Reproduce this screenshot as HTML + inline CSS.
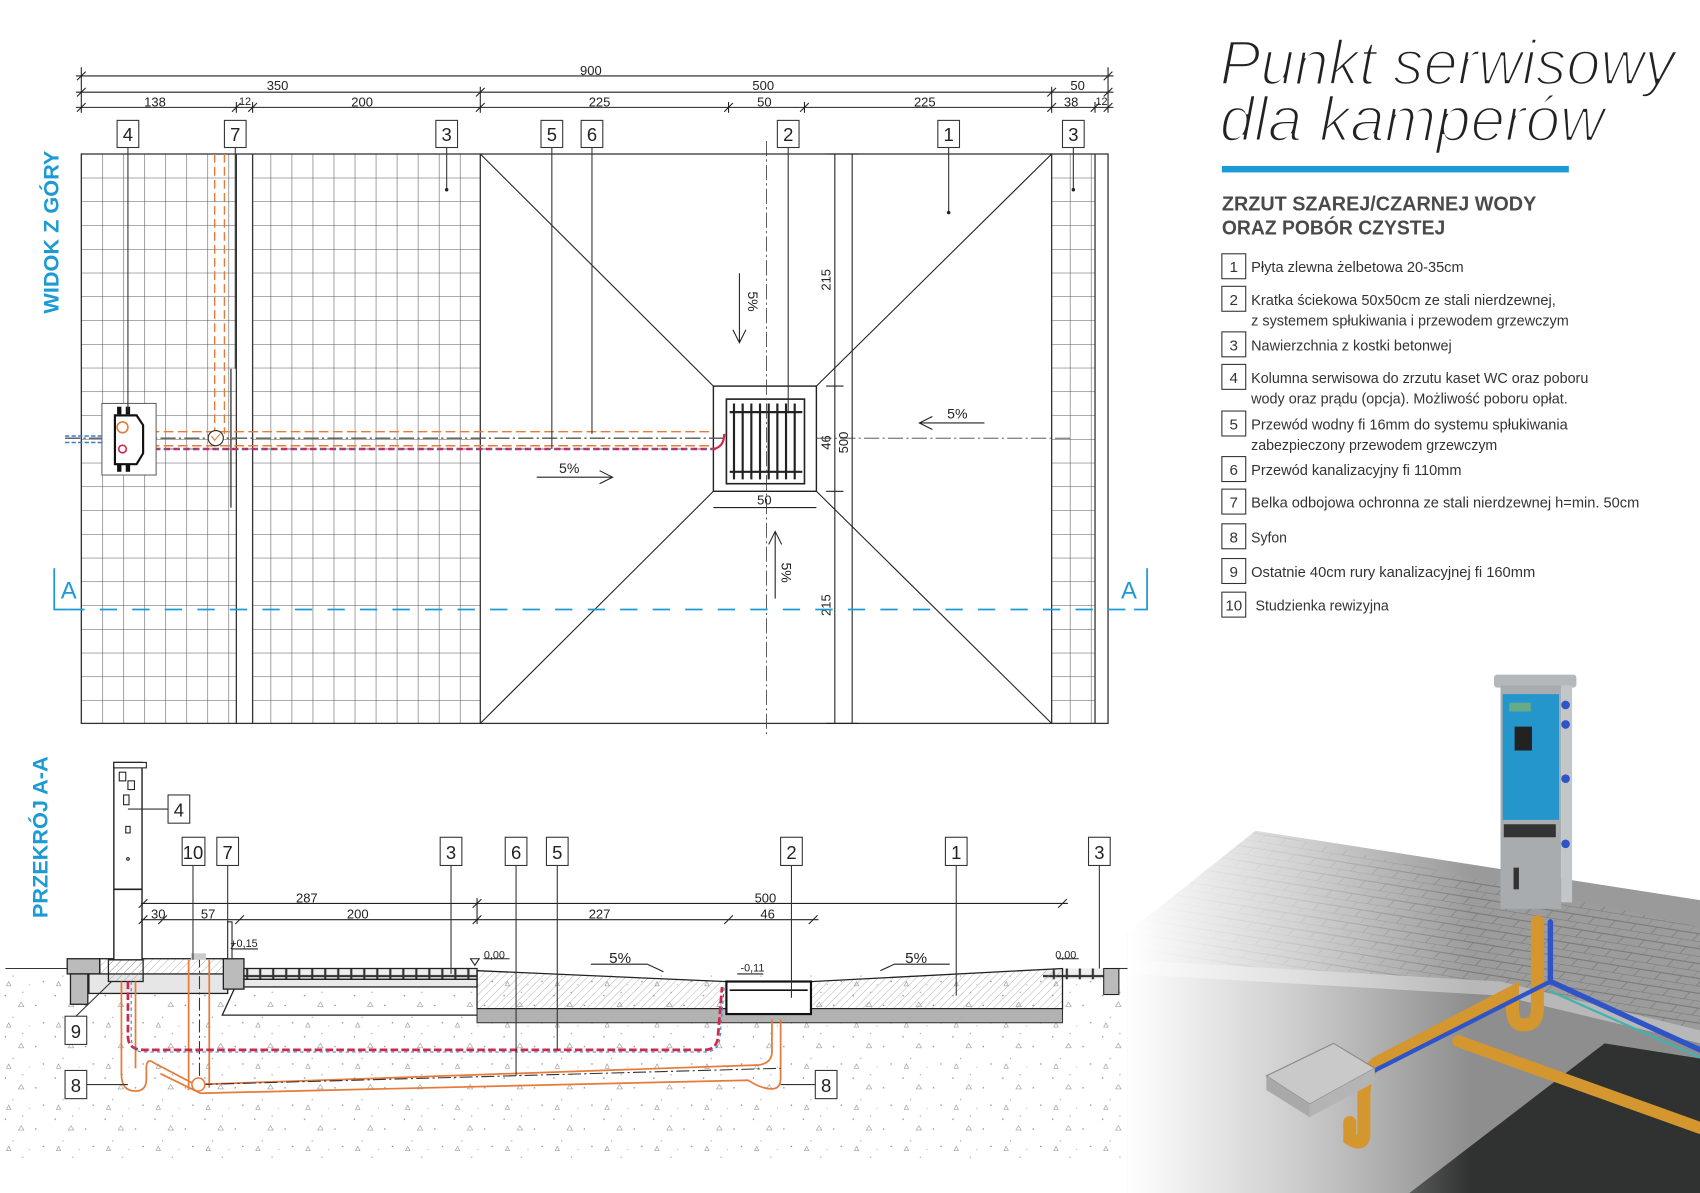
<!DOCTYPE html>
<html><head><meta charset="utf-8">
<style>
html,body{margin:0;padding:0;background:#fff;}
svg{display:block;}
.t{font-family:"Liberation Sans Narrow","Liberation Sans",sans-serif;}
</style></head>
<body>
<svg width="1700" height="1193" viewBox="0 0 1568 1100" preserveAspectRatio="none" xmlns="http://www.w3.org/2000/svg">
<defs>
<pattern id="g1" x="75" y="142" width="19.4" height="21.9" patternUnits="userSpaceOnUse">
<path d="M0 0V21.9M0 0H19.4" stroke="#555" stroke-width="1" fill="none"/>
</pattern>
<pattern id="soil" x="0" y="0" width="46" height="38" patternUnits="userSpaceOnUse">
<circle cx="5" cy="6" r="0.7" fill="#888"/><circle cx="21" cy="3" r="0.6" fill="#999"/>
<circle cx="33" cy="15" r="0.7" fill="#888"/><circle cx="12" cy="26" r="0.6" fill="#999"/>
<circle cx="40" cy="31" r="0.7" fill="#888"/><circle cx="27" cy="34" r="0.5" fill="#999"/>
<path d="M17 16l2.5 -4l2.5 4z M6 35l2 -4l2 4z" fill="none" stroke="#888" stroke-width="0.5"/>
</pattern>
<pattern id="hatch" width="5" height="5" patternUnits="userSpaceOnUse" patternTransform="rotate(45)">
<path d="M0 0V5" stroke="#888" stroke-width="0.6"/>
</pattern>
<pattern id="pave" width="12" height="10" patternUnits="userSpaceOnUse">
<rect width="12" height="10" fill="#eee"/><rect x="0.5" y="0.5" width="11" height="9" fill="none" stroke="#333" stroke-width="1"/>
</pattern>
<pattern id="brick" width="22" height="12" patternUnits="userSpaceOnUse" patternTransform="skewX(-40) rotate(8)">
<rect width="22" height="12" fill="#9c9c9c"/><path d="M0 0H22M0 6H22M0 0V6M11 6V12" stroke="#7c7c7c" stroke-width="1"/>
</pattern>
<linearGradient id="fade" x1="0" y1="0" x2="1" y2="0">
<stop offset="0" stop-color="#fff" stop-opacity="1"/><stop offset="0.3" stop-color="#fff" stop-opacity="0.55"/><stop offset="0.6" stop-color="#fff" stop-opacity="0"/>
</linearGradient>
</defs>

<!-- ================= PLAN VIEW ================= -->
<text x="0" y="0" transform="translate(54,214) rotate(-90)" text-anchor="middle" font-family="Liberation Sans" font-weight="bold" font-size="20" fill="#1c9ad6">WIDOK Z GÓRY</text>

<rect x="75" y="142" width="368" height="525" fill="url(#g1)"/>
<rect x="970" y="142" width="52" height="525" fill="url(#g1)"/>
<rect x="218" y="142" width="15" height="525" fill="#fff"/>
<rect x="1010" y="142" width="12" height="525" fill="#fff"/>
<g fill="none" stroke="#333" stroke-width="1.2">
<rect x="75" y="142" width="947" height="525"/>
<line x1="218" y1="142" x2="218" y2="667"/><line x1="233" y1="142" x2="233" y2="667"/>
<line x1="213" y1="340" x2="213" y2="468"/>
<line x1="443" y1="142" x2="443" y2="667"/><line x1="970" y1="142" x2="970" y2="667"/>
<line x1="1010" y1="142" x2="1010" y2="667"/>
</g>
<g stroke="#222" stroke-width="1" fill="none">
<line x1="443" y1="142" x2="658" y2="356"/><line x1="970" y1="142" x2="753" y2="356"/>
<line x1="443" y1="667" x2="658" y2="453"/><line x1="970" y1="667" x2="753" y2="453"/>
<rect x="658" y="356" width="95" height="97" stroke-width="1.3"/>
<rect x="670" y="368" width="72" height="78" fill="#fff" stroke-width="1.5"/>
</g>
<g stroke="#222" stroke-width="2">
<line x1="677" y1="372" x2="677" y2="442"/><line x1="685" y1="372" x2="685" y2="442"/><line x1="693" y1="372" x2="693" y2="442"/><line x1="701" y1="372" x2="701" y2="442"/><line x1="709" y1="372" x2="709" y2="442"/><line x1="717" y1="372" x2="717" y2="442"/><line x1="725" y1="372" x2="725" y2="442"/><line x1="733" y1="372" x2="733" y2="442"/>
<line x1="673" y1="380" x2="740" y2="380"/><line x1="673" y1="435" x2="740" y2="435"/>
</g>
<g stroke="#444" stroke-width="0.8" stroke-dasharray="14 3 2 3" fill="none">
<line x1="707" y1="130" x2="707" y2="680"/>
<line x1="753" y1="404" x2="990" y2="404"/>
</g>
<g stroke="#222" stroke-width="1">
<line x1="770" y1="142" x2="770" y2="667"/><line x1="786" y1="142" x2="786" y2="667"/>
<line x1="762" y1="142" x2="792" y2="142"/><line x1="762" y1="356" x2="778" y2="356"/><line x1="762" y1="453" x2="778" y2="453"/><line x1="762" y1="667" x2="792" y2="667"/>
</g>
<g class="t" font-size="12" fill="#222">
<text transform="translate(766,258) rotate(-90)" text-anchor="middle">215</text>
<text transform="translate(766,408) rotate(-90)" text-anchor="middle">46</text>
<text transform="translate(782,408) rotate(-90)" text-anchor="middle">500</text>
<text transform="translate(766,558) rotate(-90)" text-anchor="middle">215</text>
<text x="705" y="465" text-anchor="middle">50</text>
</g>
<line x1="658" y1="468" x2="753" y2="468" stroke="#222"/>
<g stroke="#222" stroke-width="1" fill="none">
<path d="M682 252V316M676 304l6 12 6-12"/>
<path d="M715 490V552M709 502l6-12 6 12"/>
<path d="M908 390H848M860 384l-12 6 12 6"/>
<path d="M495 440H565M553 434l12 6-12 6"/>
</g>
<g class="t" font-size="13" fill="#222">
<text transform="translate(690,278) rotate(90)" text-anchor="middle">5%</text>
<text transform="translate(721,528) rotate(90)" text-anchor="middle">5%</text>
<text x="883" y="386" text-anchor="middle">5%</text>
<text x="525" y="436" text-anchor="middle">5%</text>
</g>
<g fill="none" stroke-width="1.3">
<path d="M198 142V400" stroke="#e57b3a" stroke-dasharray="8 4"/>
<path d="M207 142V400" stroke="#e57b3a" stroke-dasharray="8 4"/>
<path d="M125 398H658" stroke="#e57b3a" stroke-dasharray="9 4"/>
<path d="M125 411H658" stroke="#e57b3a" stroke-dasharray="9 4"/>
<path d="M60 404H670" stroke="#555" stroke-dasharray="14 3 2 3"/>
<path d="M60 408H110M60 402H110" stroke="#3a7cc8" stroke-dasharray="4 2"/>
<path d="M115 414H660" stroke="#d0284a" stroke-width="2.2" stroke-dasharray="6 3"/>
<path d="M115 414H660" stroke="#3a7cc8" stroke-width="1" stroke-dasharray="3 3"/>
<path d="M658 414Q668 412 668 400" stroke="#d0284a" stroke-width="2"/>
</g>
<circle cx="199" cy="404" r="7" fill="#fff" stroke="#222"/>
<path d="M195 402l3 4 5-6" stroke="#e57b3a" fill="none"/>
<rect x="94" y="372" width="50" height="66" fill="#fff" stroke="#666"/>
<path d="M106 383H126L132 392V418L126 428H106Z" fill="#fff" stroke="#111" stroke-width="2"/>
<rect x="108" y="375" width="4" height="7" fill="#111"/><rect x="116" y="375" width="4" height="7" fill="#111"/>
<rect x="108" y="428" width="4" height="7" fill="#111"/><rect x="116" y="428" width="4" height="7" fill="#111"/>
<circle cx="113" cy="394" r="5" fill="none" stroke="#e57b3a" stroke-width="1.5"/>
<circle cx="113" cy="414" r="3.5" fill="none" stroke="#d0284a" stroke-width="1.5"/>

<g stroke="#222" stroke-width="1" fill="none">
<line x1="70" y1="70" x2="1027" y2="70"/><line x1="70" y1="85" x2="1027" y2="85"/><line x1="70" y1="99" x2="1027" y2="99"/>
<line x1="75" y1="62" x2="75" y2="104"/><line x1="1022" y1="62" x2="1022" y2="104"/>
<line x1="443" y1="80" x2="443" y2="104"/><line x1="970" y1="80" x2="970" y2="104"/>
<line x1="218" y1="94" x2="218" y2="104"/><line x1="233" y1="94" x2="233" y2="104"/>
<line x1="672" y1="94" x2="672" y2="104"/><line x1="742" y1="94" x2="742" y2="104"/><line x1="1010" y1="94" x2="1010" y2="104"/>
<path d="M71 74l8-8M71 89l8-8M71 103l8-8M1018 74l8-8M1018 89l8-8M1018 103l8-8M439 89l8-8M439 103l8-8M966 89l8-8M966 103l8-8M214 103l8-8M229 103l8-8M668 103l8-8M738 103l8-8M1006 103l8-8"/>
</g>
<g class="t" font-size="12" fill="#222" text-anchor="middle">
<text x="545" y="69">900</text>
<text x="256" y="83">350</text><text x="704" y="83">500</text><text x="994" y="83">50</text>
<text x="143" y="98">138</text><text x="226" y="97" font-size="10">12</text><text x="334" y="98">200</text><text x="553" y="98">225</text><text x="705" y="98">50</text><text x="853" y="98">225</text><text x="988" y="98">38</text><text x="1016" y="97" font-size="10">12</text>
</g>
<g stroke="#333" stroke-width="1" fill="#fff">
<rect x="108" y="111" width="20" height="25"/><rect x="207" y="111" width="20" height="25"/><rect x="402" y="111" width="20" height="25"/>
<rect x="499" y="111" width="20" height="25"/><rect x="536" y="111" width="20" height="25"/><rect x="717" y="111" width="20" height="25"/>
<rect x="865" y="111" width="20" height="25"/><rect x="980" y="111" width="20" height="25"/>
</g>
<g stroke="#333" stroke-width="1">
<line x1="118" y1="136" x2="118" y2="380"/><line x1="217" y1="136" x2="217" y2="340"/><line x1="412" y1="136" x2="412" y2="174"/>
<line x1="509" y1="136" x2="509" y2="414"/><line x1="546" y1="136" x2="546" y2="400"/><line x1="727" y1="136" x2="727" y2="380"/>
<line x1="875" y1="136" x2="875" y2="195"/><line x1="990" y1="136" x2="990" y2="174"/>
</g>
<g fill="#222"><circle cx="412" cy="175" r="1.6"/><circle cx="875" cy="196" r="1.6"/><circle cx="990" cy="175" r="1.6"/></g>
<g class="t" font-size="17" fill="#222" text-anchor="middle">
<text x="118" y="130">4</text><text x="217" y="130">7</text><text x="412" y="130">3</text><text x="509" y="130">5</text><text x="546" y="130">6</text><text x="727" y="130">2</text><text x="875" y="130">1</text><text x="990" y="130">3</text>
</g>
<g stroke="#1c9ad6" stroke-width="1.6" fill="none">
<path d="M50 524V562H62"/><path d="M1058 524V562H1046"/>
<line x1="62" y1="562" x2="1046" y2="562" stroke-dasharray="16 14"/>
</g>
<g class="t" font-size="22" fill="#1c9ad6"><text x="56" y="552">A</text><text x="1034" y="552">A</text></g>

<!-- ================= SECTION ================= -->
<text x="0" y="0" transform="translate(44,772) rotate(-90)" text-anchor="middle" font-family="Liberation Sans" font-weight="bold" font-size="20" fill="#1c9ad6">PRZEKRÓJ A-A</text>
<rect x="0" y="893" width="1035" height="175" fill="url(#soil)"/>
<line x1="5" y1="893" x2="62" y2="893" stroke="#333"/>
<line x1="1032" y1="893" x2="1040" y2="893" stroke="#333"/>
<g stroke="#222" stroke-width="1.2">
<rect x="62" y="884" width="30" height="14" fill="#bbb"/>
<rect x="65" y="898" width="16" height="28" fill="#bbb"/>
<rect x="92" y="884" width="118" height="20" fill="url(#hatch)"/>
<rect x="82" y="898" width="128" height="18" fill="#e6e6e6"/>
<rect x="100" y="885" width="32" height="20" fill="url(#hatch)"/>
<rect x="206" y="884" width="19" height="28" fill="#bbb"/>
<rect x="225" y="893" width="215" height="10" fill="url(#pave)"/>
<rect x="225" y="903" width="215" height="7" fill="#eaeaea"/>
<path d="M216 912L205 936H440" fill="none"/>
</g>
<rect x="962" y="893" width="70" height="10" fill="url(#pave)"/>
<rect x="1018" y="893" width="14" height="24" fill="#bbb" stroke="#222"/>
<path d="M440 895L668 905H750L980 893V930H440Z" fill="url(#hatch)" stroke="#222" stroke-width="1.2"/>
<rect x="440" y="930" width="540" height="13" fill="#aaa" stroke="#222" stroke-width="1" opacity="0.9"/>
<rect x="670" y="905" width="78" height="30" fill="#fff" stroke="#111" stroke-width="2"/>
<line x1="673" y1="913" x2="745" y2="913" stroke="#111" stroke-width="1.5"/>
<rect x="105" y="703" width="26" height="182" fill="#fff" stroke="#222" stroke-width="1.3"/>
<rect x="105" y="703" width="30" height="5" fill="#fff" stroke="#222"/>
<line x1="105" y1="820" x2="131" y2="820" stroke="#222" stroke-width="1.5"/>
<g fill="none" stroke="#222"><rect x="110" y="712" width="6" height="8"/><rect x="118" y="720" width="6" height="8"/><rect x="114" y="733" width="5" height="9"/><rect x="116" y="762" width="4" height="6"/><circle cx="118" cy="792" r="1.2"/></g>
<g fill="none">
<path d="M112 905V990Q112 1006 125 1006Q135 1006 135 995V985Q135 975 142 980L180 1000L700 982Q712 980 712 970V940" stroke="#e57b3a" stroke-width="1.6"/>
<path d="M125 905V985M148 990L185 1008L690 996Q702 1004 712 1004Q720 1004 720 994V940" stroke="#e57b3a" stroke-width="1.6"/>
<path d="M174 885V1005M193 885V1003" stroke="#e57b3a" stroke-width="1.6"/>
<path d="M184 880V1000L720 985" stroke="#333" stroke-dasharray="12 3 2 3"/>
<path d="M118 905V955Q118 968 132 968H650Q660 968 662 958L666 910" stroke="#d0284a" stroke-width="2.5" stroke-dasharray="7 3"/>
<path d="M121 905V955Q121 970 132 970H650Q662 970 664 958L668 910" stroke="#3a7cc8" stroke-width="1" stroke-dasharray="3 3"/>
</g>
<circle cx="183" cy="1000" r="6" fill="#fff" stroke="#e57b3a" stroke-width="1.4"/>
<rect x="176" y="879" width="14" height="6" fill="#ccc"/>
<g stroke="#222" stroke-width="1" fill="none">
<line x1="130" y1="833" x2="985" y2="833"/><line x1="130" y1="848" x2="755" y2="848"/>
<path d="M128 852l8-8M128 837l8-8M146 852l8-8M217 852l8-8M436 852l8-8M436 837l8-8M668 852l8-8M746 852l8-8M976 837l8-8"/>
<line x1="440" y1="828" x2="440" y2="852"/>
<rect x="210" y="850" width="4" height="34" fill="#fff"/>
<path d="M214 875H238M213 875l3-5M438 890l-4-6h8z"/>
</g>
<g class="t" font-size="12" fill="#222" text-anchor="middle">
<text x="283" y="832">287</text><text x="706" y="832">500</text>
<text x="146" y="847">30</text><text x="192" y="847">57</text><text x="330" y="847">200</text><text x="553" y="847">227</text><text x="708" y="847">46</text>
<text x="225" y="873" font-size="10">+0,15</text><text x="456" y="884" font-size="10">0,00</text><text x="694" y="896" font-size="10">-0,11</text><text x="983" y="884" font-size="10">0,00</text>
<text x="572" y="888" font-size="14">5%</text><text x="845" y="888" font-size="14">5%</text>
</g>
<g stroke="#222" fill="none"><path d="M545 889l52 0 15 7"/><path d="M876 889H825L812 895"/><path d="M446 884H470M680 898H704M975 884H995"/></g>
<g stroke="#333" stroke-width="1" fill="#fff">
<rect x="155" y="733" width="20" height="26"/><rect x="168" y="772" width="21" height="26"/><rect x="200" y="772" width="20" height="26"/>
<rect x="406" y="772" width="20" height="26"/><rect x="466" y="772" width="20" height="26"/><rect x="504" y="772" width="20" height="26"/>
<rect x="720" y="772" width="20" height="26"/><rect x="872" y="772" width="20" height="26"/><rect x="1004" y="772" width="20" height="26"/>
<rect x="60" y="937" width="20" height="26"/><rect x="60" y="987" width="20" height="26"/><rect x="752" y="987" width="20" height="26"/>
</g>
<g stroke="#333" stroke-width="1">
<line x1="118" y1="746" x2="155" y2="746"/><line x1="178" y1="798" x2="178" y2="885"/><line x1="210" y1="798" x2="210" y2="850"/>
<line x1="416" y1="798" x2="416" y2="898"/><line x1="476" y1="798" x2="476" y2="992"/><line x1="514" y1="798" x2="514" y2="968"/>
<line x1="730" y1="798" x2="730" y2="920"/><line x1="882" y1="798" x2="882" y2="918"/><line x1="1014" y1="798" x2="1014" y2="893"/>
<line x1="70" y1="937" x2="103" y2="905"/><line x1="80" y1="1000" x2="118" y2="1000"/><line x1="720" y1="1000" x2="752" y2="1000"/>
</g>
<g class="t" font-size="17" fill="#222" text-anchor="middle">
<text x="165" y="753">4</text><text x="178" y="792">10</text><text x="210" y="792">7</text><text x="416" y="792">3</text><text x="476" y="792">6</text><text x="514" y="792">5</text>
<text x="730" y="792">2</text><text x="882" y="792">1</text><text x="1014" y="792">3</text><text x="70" y="957">9</text><text x="70" y="1007">8</text><text x="762" y="1007">8</text>
</g>

<!-- ================= RIGHT TEXT ================= -->
<g font-family="Liberation Sans" font-style="italic" fill="#222" stroke="#fff" stroke-width="2.4" font-size="58">
<text x="1125" y="78" textLength="420" lengthAdjust="spacingAndGlyphs">Punkt serwisowy</text>
<text x="1125" y="130" textLength="355" lengthAdjust="spacingAndGlyphs">dla kamperów</text>
</g>
<rect x="1127" y="153" width="320" height="6" fill="#1c9ad6"/>
<g font-family="Liberation Sans" font-weight="bold" font-size="19" fill="#4a4a4a">
<text x="1127" y="194" textLength="290" lengthAdjust="spacingAndGlyphs">ZRZUT SZAREJ/CZARNEJ WODY</text>
<text x="1127" y="216" textLength="206" lengthAdjust="spacingAndGlyphs">ORAZ POBÓR CZYSTEJ</text>
</g>
<g stroke="#333" stroke-width="1" fill="#fff">
<rect x="1127" y="234" width="22" height="23"/><rect x="1127" y="264" width="22" height="23"/><rect x="1127" y="306" width="22" height="23"/>
<rect x="1127" y="336" width="22" height="23"/><rect x="1127" y="379" width="22" height="23"/><rect x="1127" y="421" width="22" height="23"/>
<rect x="1127" y="451" width="22" height="23"/><rect x="1127" y="483" width="22" height="23"/><rect x="1127" y="515" width="22" height="23"/>
<rect x="1127" y="546" width="22" height="23"/>
</g>
<g font-family="Liberation Sans" font-size="14" fill="#333">
<g text-anchor="middle"><text x="1138" y="251">1</text><text x="1138" y="281">2</text><text x="1138" y="323">3</text><text x="1138" y="353">4</text><text x="1138" y="396">5</text><text x="1138" y="438">6</text><text x="1138" y="468">7</text><text x="1138" y="500">8</text><text x="1138" y="532">9</text><text x="1138" y="563">10</text></g>
<g lengthAdjust="spacingAndGlyphs">
<text x="1154" y="251" textLength="196" lengthAdjust="spacingAndGlyphs">Płyta zlewna żelbetowa 20-35cm</text>
<text x="1154" y="281" textLength="281" lengthAdjust="spacingAndGlyphs">Kratka ściekowa 50x50cm ze stali nierdzewnej,</text>
<text x="1154" y="300" textLength="293" lengthAdjust="spacingAndGlyphs">z systemem spłukiwania i przewodem grzewczym</text>
<text x="1154" y="323" textLength="185" lengthAdjust="spacingAndGlyphs">Nawierzchnia z kostki betonwej</text>
<text x="1154" y="353" textLength="311" lengthAdjust="spacingAndGlyphs">Kolumna serwisowa do zrzutu kaset WC oraz poboru</text>
<text x="1154" y="372" textLength="292" lengthAdjust="spacingAndGlyphs">wody oraz prądu (opcja). Możliwość poboru opłat.</text>
<text x="1154" y="396" textLength="292" lengthAdjust="spacingAndGlyphs">Przewód wodny fi 16mm do systemu spłukiwania</text>
<text x="1154" y="415" textLength="227" lengthAdjust="spacingAndGlyphs">zabezpieczony przewodem grzewczym</text>
<text x="1154" y="438" textLength="194" lengthAdjust="spacingAndGlyphs">Przewód kanalizacyjny fi 110mm</text>
<text x="1154" y="468" textLength="358" lengthAdjust="spacingAndGlyphs">Belka odbojowa ochronna ze stali nierdzewnej h=min. 50cm</text>
<text x="1154" y="500" textLength="33" lengthAdjust="spacingAndGlyphs">Syfon</text>
<text x="1154" y="532" textLength="262" lengthAdjust="spacingAndGlyphs">Ostatnie 40cm rury kanalizacyjnej fi 160mm</text>
<text x="1158" y="563" textLength="123" lengthAdjust="spacingAndGlyphs">Studzienka rewizyjna</text>
</g>
</g>

<!-- ================= PHOTO ================= -->
<path d="M1040 880L1158 766L1568 830V1100H1040Z" fill="#9a9a9a"/>
<path d="M1040 860L1158 766L1568 855V950L1384 905L1040 885Z" fill="url(#brick)"/>
<path d="M1040 885L1384 905L1568 950V962L1384 918L1040 898Z" fill="#b8b8b8"/>
<path d="M1040 898L1384 918L1568 962V1100H1040Z" fill="#8e8e8e"/>
<path d="M1480 962L1568 976V1100H1300Z" fill="#2f3230"/>
<rect x="1040" y="740" width="528" height="360" fill="url(#fade)"/>
<g fill="none" stroke-linecap="round">
<path d="M1418 850V930Q1418 945 1405 945Q1395 945 1395 930V915L1270 980Q1258 990 1258 1010V1045Q1258 1058 1245 1050V1035" stroke="#d4962e" stroke-width="12"/>
<path d="M1345 960L1568 1040" stroke="#d4962e" stroke-width="11"/>
<path d="M1430 850V905L1568 968" stroke="#2f54c8" stroke-width="5"/>
<path d="M1430 905L1262 990L1248 1002" stroke="#2f54c8" stroke-width="4"/>
<path d="M1430 914L1568 975" stroke="#3fb3b0" stroke-width="2"/>
</g>
<path d="M1168 992L1230 962L1268 985L1208 1018Z" fill="#c9c9c9" stroke="#888"/>
<path d="M1168 992V1005L1208 1030V1018Z" fill="#a9a9a9"/>
<path d="M1208 1018V1030L1268 998V985Z" fill="#b4b4b4"/>
<rect x="1378" y="622" width="76" height="12" rx="3" fill="#b5b8bb"/>
<rect x="1384" y="632" width="56" height="206" fill="#a9acaf"/>
<rect x="1440" y="632" width="10" height="200" fill="#c3c6c8"/>
<rect x="1386" y="640" width="52" height="116" fill="#2596cc"/>
<rect x="1392" y="648" width="20" height="8" fill="#6a8"/>
<rect x="1397" y="670" width="16" height="22" fill="#222"/>
<rect x="1387" y="760" width="48" height="12" fill="#333"/>
<circle cx="1444" cy="650" r="4" fill="#2f54c8"/><circle cx="1444" cy="668" r="4" fill="#2f54c8"/><circle cx="1444" cy="718" r="4" fill="#2f54c8"/><circle cx="1444" cy="778" r="4" fill="#2f54c8"/>
<rect x="1396" y="800" width="5" height="20" fill="#333"/>
</svg>
</body></html>
